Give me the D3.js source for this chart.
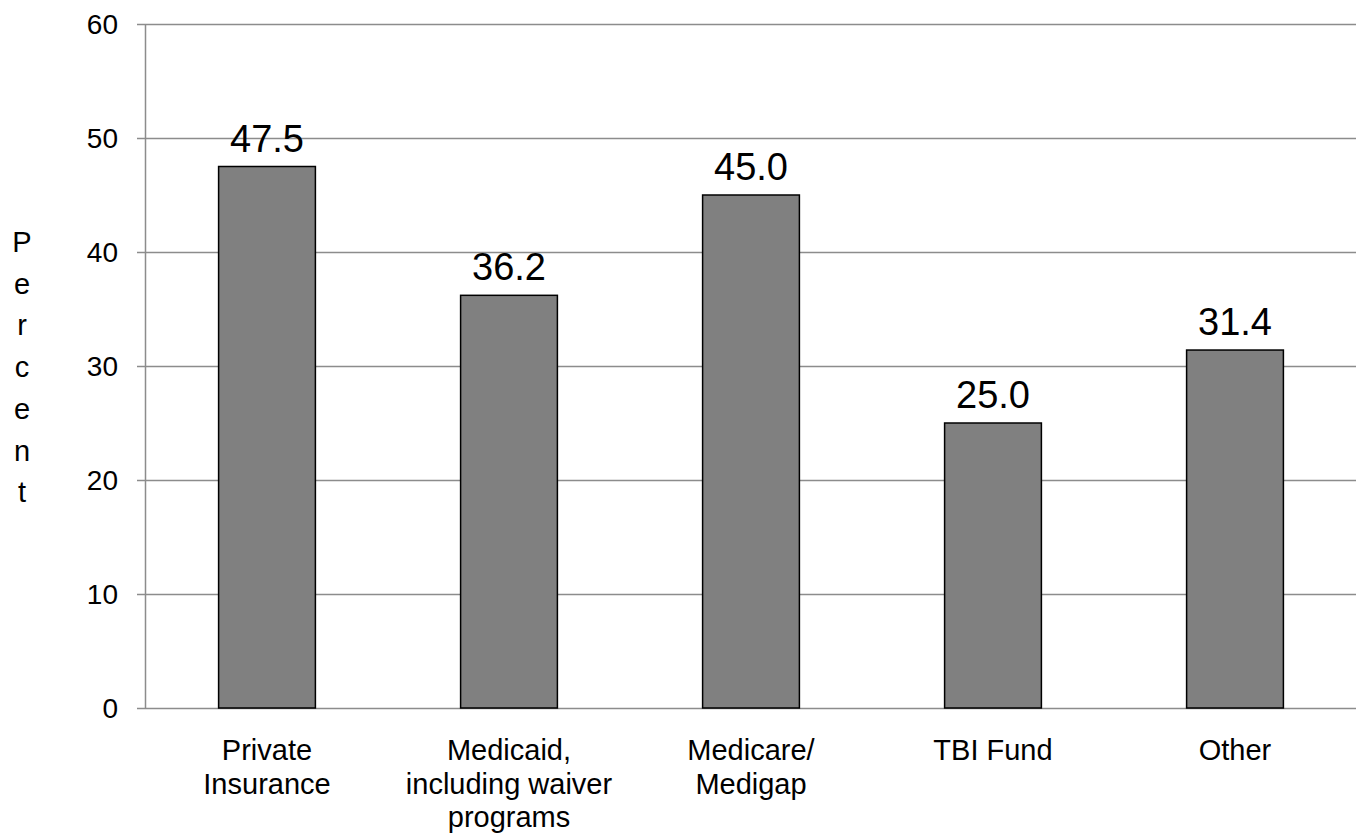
<!DOCTYPE html>
<html>
<head>
<meta charset="utf-8">
<script src="https://cdn.jsdelivr.net/npm/d3@7"></script>
<style>
  html, body { margin: 0; padding: 0; background: #fff; }
  svg { display: block; font-family: "Liberation Sans", Arial, sans-serif; }
</style>
</head>
<body>
<svg id="chart" width="1360" height="833"></svg>
<script>
// Payment sources (percent of respondents)
const categories = [
  ["Private", "Insurance"],
  ["Medicaid,", "including waiver", "programs"],
  ["Medicare/", "Medigap"],
  ["TBI Fund"],
  ["Other"]
];
const values = [47.5, 36.2, 45.0, 25.0, 31.4];
const yTicks = [0, 10, 20, 30, 40, 50, 60];
const axisTitle = "Percent";

const svg = d3.select("#chart");
const margin = { left: 146, right: 4, top: 24, bottom: 125 };
const W = 1360, H = 833;

const x = d3.scaleBand()
  .domain(d3.range(values.length))
  .range([margin.left, W - margin.right])
  .paddingInner(0.6)
  .paddingOuter(0.3);

const y = d3.scaleLinear()
  .domain([0, 60])
  .range([H - margin.bottom, margin.top]);

// Horizontal gridlines (extend left past the axis as tick marks)
svg.append("g")
  .selectAll("line")
  .data(yTicks)
  .join("line")
  .attr("x1", margin.left - 9)
  .attr("x2", W - margin.right)
  .attr("y1", d => Math.round(y(d)) + 0.5)
  .attr("y2", d => Math.round(y(d)) + 0.5)
  .attr("stroke", "#8c8c8c")
  .attr("stroke-width", 1.5);

// Y axis line
svg.append("line")
  .attr("x1", margin.left - 0.5).attr("x2", margin.left - 0.5)
  .attr("y1", y(60)).attr("y2", y(0))
  .attr("stroke", "#8c8c8c")
  .attr("stroke-width", 1.5);

// Y tick labels
svg.append("g")
  .selectAll("text")
  .data(yTicks)
  .join("text")
  .attr("x", margin.left - 28)
  .attr("y", d => y(d))
  .attr("dy", "0.36em")
  .attr("text-anchor", "end")
  .attr("font-size", 28)
  .attr("fill", "#000")
  .text(d => d);

// Bars
svg.append("g")
  .selectAll("rect")
  .data(values)
  .join("rect")
  .attr("x", (d, i) => x(i))
  .attr("y", d => y(d))
  .attr("width", x.bandwidth())
  .attr("height", d => y(0) - y(d))
  .attr("fill", "#808080")
  .attr("stroke", "#000")
  .attr("stroke-width", 1.5);

// Value labels
svg.append("g")
  .selectAll("text")
  .data(values)
  .join("text")
  .attr("x", (d, i) => x(i) + x.bandwidth() / 2)
  .attr("y", d => y(d) - 15)
  .attr("text-anchor", "middle")
  .attr("font-size", 38)
  .attr("fill", "#000")
  .text(d => d.toFixed(1));

// Category labels
const cat = svg.append("g")
  .selectAll("text")
  .data(categories)
  .join("text")
  .attr("x", (d, i) => x(i) + x.bandwidth() / 2)
  .attr("y", y(0) + 52)
  .attr("text-anchor", "middle")
  .attr("font-size", 29)
  .attr("fill", "#000");
cat.selectAll("tspan")
  .data(d => d)
  .join("tspan")
  .attr("x", function () { return d3.select(this.parentNode).attr("x"); })
  .attr("dy", (d, i) => i === 0 ? 0 : 33.5)
  .text(d => d);

// Vertical stacked axis title
svg.append("g")
  .selectAll("text")
  .data(axisTitle.split(""))
  .join("text")
  .attr("x", 22)
  .attr("y", (d, i) => 252 + i * 41.7)
  .attr("text-anchor", "middle")
  .attr("font-size", 29)
  .attr("fill", "#000")
  .text(d => d);
</script>
</body>
</html>
